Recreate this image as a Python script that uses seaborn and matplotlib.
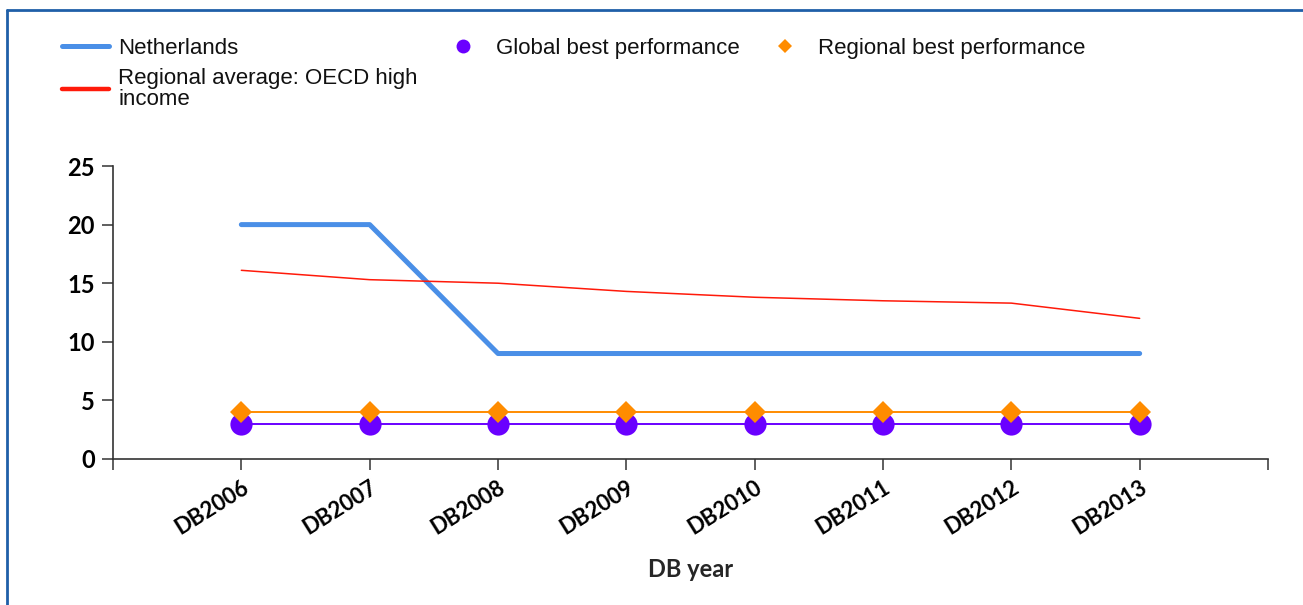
import matplotlib
matplotlib.use("Agg")
import matplotlib.pyplot as plt
from matplotlib.lines import Line2D
import seaborn as sns
import pandas as pd

# data
years = ["DB2006", "DB2007", "DB2008", "DB2009", "DB2010", "DB2011", "DB2012", "DB2013"]
netherlands = [20, 20, 9, 9, 9, 9, 9, 9]
regional_avg = [16.1, 15.3, 15.0, 14.3, 13.8, 13.5, 13.3, 12.0]
global_best = [3, 3, 3, 3, 3, 3, 3, 3]
regional_best = [4, 4, 4, 4, 4, 4, 4, 4]
y_ticks = [0, 5, 10, 15, 20, 25]

df = pd.DataFrame({
    "year": years,
    "Netherlands": netherlands,
    "Regional average": regional_avg,
    "Global best": global_best,
    "Regional best": regional_best,
})

sns.set_style("ticks")
plt.rcParams["font.family"] = ["Lato", "DejaVu Sans"]

BLUE = "#4a8fe7"
RED = "#ff1a0a"
PURPLE = "#6a00ff"
ORANGE = "#ff8c00"
AXC = "#333333"

W, H = 1303, 605
fig = plt.figure(figsize=(W / 100, H / 100), dpi=100)
ax = fig.add_axes([113 / W, 1 - 459 / H, (1268 - 113) / W, (459 - 166) / H])

sns.lineplot(data=df, x="year", y="Netherlands", ax=ax, color=BLUE, linewidth=3.6,
             solid_capstyle="round", sort=False)
sns.lineplot(data=df, x="year", y="Regional average", ax=ax, color=RED, linewidth=1.1, sort=False)
sns.lineplot(data=df, x="year", y="Global best", ax=ax, color=PURPLE, linewidth=1.4,
             marker="o", markersize=16, markeredgewidth=0, sort=False)
sns.lineplot(data=df, x="year", y="Regional best", ax=ax, color=ORANGE, linewidth=1.4,
             marker="D", markersize=11, markeredgewidth=0, sort=False)

ax.set_xlim(-1, 8)
ax.set_ylim(0, 25)
ax.set_yticks(y_ticks)
ax.set_xticks(range(len(years)))
ax.set_xticks([-1, 8], minor=True)
ax.set_xticklabels(years, rotation=32, ha="right", rotation_mode="anchor",
                   fontsize=16, fontweight="bold")
ax.set_yticklabels([str(v) for v in y_ticks], fontsize=17, fontweight="bold")
ax.tick_params(axis="both", which="both", direction="out", length=8, width=1.1,
               colors=AXC, labelcolor="black", pad=5, bottom=True, left=True)
ax.set_xlabel("DB year", fontsize=17, fontweight="bold", labelpad=14)
ax.set_ylabel("")

for side in ["top", "right"]:
    ax.spines[side].set_visible(False)
for side in ["left", "bottom"]:
    ax.spines[side].set_color(AXC)
    ax.spines[side].set_linewidth(1.2)

# legend, laid out like the original (three columns across the top)
handles = [
    Line2D([], [], color=BLUE, linewidth=3.6),
    Line2D([], [], color=RED, linewidth=3.2),
    Line2D([], [], color=PURPLE, linestyle="none", marker="o", markersize=10, markeredgewidth=0),
    Line2D([], [], color=ORANGE, linestyle="none", marker="D", markersize=7, markeredgewidth=0),
]
labels = ["Netherlands", "Regional average: OECD high\nincome",
          "Global best performance", "Regional best performance"]
leg = fig.legend(handles, labels, loc="upper left", bbox_to_anchor=(62 / W, 1 - 38 / H),
                 ncol=3, frameon=False, borderpad=0, borderaxespad=0,
                 handlelength=2.1, handletextpad=0.42, columnspacing=1.0,
                 labelspacing=0.4, prop={"family": "Liberation Sans", "size": 16})
for t in leg.get_texts():
    t.set_linespacing(1.0)
    t.set_color("#111111")

# blue window frame at top and left edge
fig.add_artist(Line2D([7 / W, 7 / W], [0, 1 - 10 / H], transform=fig.transFigure,
                      color="#1f5fa8", linewidth=2))
fig.add_artist(Line2D([7 / W, 1], [1 - 10 / H, 1 - 10 / H], transform=fig.transFigure,
                      color="#1f5fa8", linewidth=2))

fig.savefig("out.png", dpi=100)
